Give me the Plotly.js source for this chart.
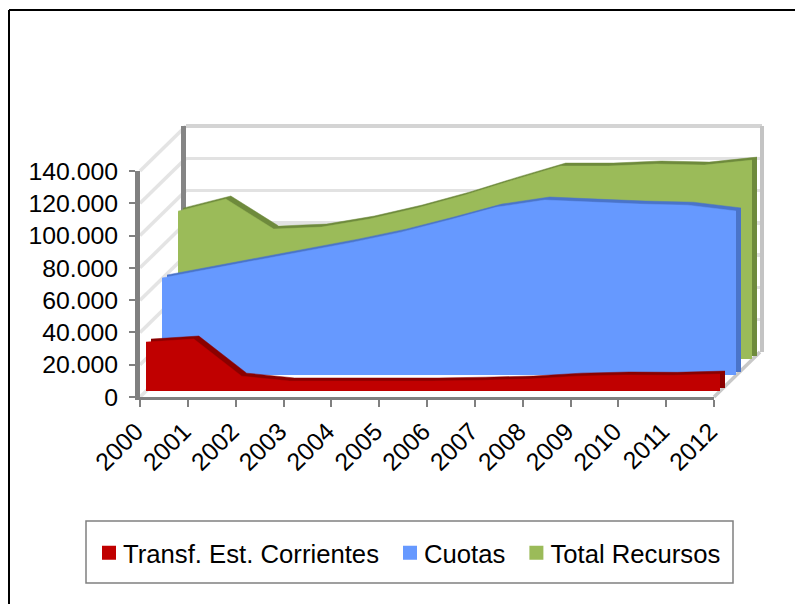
<!DOCTYPE html>
<html>
<head>
<meta charset="utf-8">
<script src="https://cdn.plot.ly/plotly-3.0.1.min.js"></script>
<style>html,body{margin:0;padding:0;background:#fff;overflow:hidden}</style>
</head>
<body>
<div id="chart" style="width:795px;height:604px"></div>
<script>
var years = [2000,2001,2002,2003,2004,2005,2006,2007,2008,2009,2010,2011,2012];
var seriesNames = ['Transf. Est. Corrientes','Cuotas','Total Recursos'];
var transfEst = [30300,32200,9200,6200,6200,6200,6200,6700,7400,9200,9900,9700,10500];
var cuotas = [60100,65600,70900,76700,82300,88500,96000,104000,108400,107100,105900,105200,101600];
var totalRecursos = [91600,99100,80500,81700,86700,93500,101600,110800,119500,119500,120800,120100,123200];
var yTicks = [0,20000,40000,60000,80000,100000,120000,140000];
var yTickText = ['0','20.000','40.000','60.000','80.000','100.000','120.000','140.000'];

var W = 795, H = 604;
var FONT = 'Liberation Sans, Arial, sans-serif';
var frontX = 140, frontW = 574, frontY0 = 397, frontH = 226;
var wallDX = 46, wallDY = 45;
var layers = [
  {name:'wall', dx:wallDX, dy:wallDY},
  {name:'greenBack', dx:43, dy:41},
  {name:'greenFront', dx:38, dy:38},
  {name:'blueBack', dx:27, dy:25},
  {name:'blueFront', dx:22, dy:22},
  {name:'redBack', dx:11, dy:9},
  {name:'redFront', dx:6, dy:6},
  {name:'front', dx:0, dy:0}
];
var layout = {
  width:W, height:H, margin:{l:0,r:0,t:0,b:0}, paper_bgcolor:'#fff', plot_bgcolor:'rgba(0,0,0,0)',
  font:{family:FONT,color:'#000',size:24},
  showlegend:true,
  legend:{orientation:'h',x:83/W,xanchor:'left',y:1-553/H,yanchor:'middle',
    font:{family:FONT,size:25.7,color:'#000'},bgcolor:'rgba(0,0,0,0)',borderwidth:0,
    itemwidth:30,traceorder:'normal',itemclick:false,itemdoubleclick:false},
  shapes:[], hovermode:false
};
layers.forEach(function(l,i){
  var n = i===0 ? '' : String(i+1);
  layout['xaxis'+n] = {domain:[(frontX+l.dx)/W,(frontX+l.dx+frontW)/W],range:[2000,2012],anchor:'y'+n,visible:false,fixedrange:true};
  layout['yaxis'+n] = {domain:[1-(frontY0-l.dy)/H,1-(frontY0-l.dy-frontH)/H],range:[0,140000],anchor:'x'+n,visible:false,fixedrange:true};
});
layout.yaxis = Object.assign(layout.yaxis,{visible:true,showticklabels:false,ticks:'',showgrid:true,gridcolor:'#e2e2e2',gridwidth:3.5,tickvals:yTicks,
  showline:true,linecolor:'#858585',linewidth:5,zeroline:false});
layout.xaxis = Object.assign(layout.xaxis,{visible:false});
layout.xaxis8 = Object.assign(layout.xaxis8,{visible:true,showgrid:false,zeroline:false,showline:true,linecolor:'#808080',linewidth:3,
  tickmode:'array',tickvals:years,ticktext:years.map(String),ticks:'outside',ticklen:7,tickwidth:2,tickcolor:'#808080',tickangle:-45,ticklabelshift:-4,
  tickfont:{family:FONT,size:24.8,color:'#000'}});
layout.yaxis8 = Object.assign(layout.yaxis8,{visible:true,showgrid:false,zeroline:false,showline:true,linecolor:'#808080',linewidth:5,
  tickmode:'array',tickvals:yTicks,ticktext:yTickText,ticks:'outside',ticklen:6,tickwidth:2,tickcolor:'#808080',ticklabelstandoff:6,
  tickfont:{family:FONT,size:24.8,color:'#000'}});

function px(x){return x/W;} function py(y){return 1-y/H;}
function seg(x0,y0,x1,y1,c,w){layout.shapes.push({type:'line',xref:'paper',yref:'paper',x0:px(x0),y0:py(y0),x1:px(x1),y1:py(y1),layer:'below',line:{color:c,width:w}});}
yTicks.forEach(function(v){
  var y = frontY0 - v/140000*frontH;
  seg(frontX,y,frontX+wallDX,y-wallDY,'#e4e4e4',3.5);
});
seg(frontX+wallDX,frontY0-wallDY-frontH,frontX+wallDX+frontW+2,frontY0-wallDY-frontH,'#d4d4d4',4);
seg(frontX+wallDX+frontW+2,frontY0-wallDY-frontH,frontX+wallDX+frontW+2,frontY0-wallDY,'#c4c4c4',4);
seg(frontX+frontW,frontY0,frontX+wallDX+frontW,frontY0-wallDY,'#c8c8c8',3.5);
// chart frame: only the left and top edges are inside the picture
seg(9,10,795,10,'#000',2);
seg(9,10,9,604,'#000',2);
layout.shapes.push({type:'rect',xref:'paper',yref:'paper',x0:px(86),x1:px(733),y0:py(521),y1:py(583),layer:'below',line:{color:'#808080',width:1.5},fillcolor:'#fff'});

function area(vals,color,n){
  return {type:'scatter',mode:'lines',x:years,y:vals,fill:'tozeroy',fillcolor:color,line:{color:color,width:0.5},
    xaxis:'x'+n,yaxis:'y'+n,showlegend:false,hoverinfo:'skip'};
}
function proxy(name,color){
  return {type:'scatter',mode:'markers',x:[null],y:[null],name:name,xaxis:'x8',yaxis:'y8',
    marker:{symbol:'square',size:14,color:color,line:{width:0}},showlegend:true,hoverinfo:'skip'};
}
var data = [
  {type:'scatter',mode:'lines',x:[null],y:[null],xaxis:'x',yaxis:'y',showlegend:false,hoverinfo:'skip'},
  area(totalRecursos,'#6E8A3C',2), area(totalRecursos,'#9BBB59',3),
  area(cuotas,'#4A74C9',4), area(cuotas,'#6699FF',5),
  area(transfEst,'#8A0000',6), area(transfEst,'#C00000',7),
  proxy(seriesNames[0],'#C00000'), proxy(seriesNames[1],'#6699FF'), proxy(seriesNames[2],'#9BBB59')
];
Plotly.newPlot('chart',data,layout,{displayModeBar:false,staticPlot:true}).then(function(){
  document.querySelectorAll('.legendsymbols').forEach(function(g){g.setAttribute('transform','translate(6,0)');});
});
</script>
</body>
</html>
